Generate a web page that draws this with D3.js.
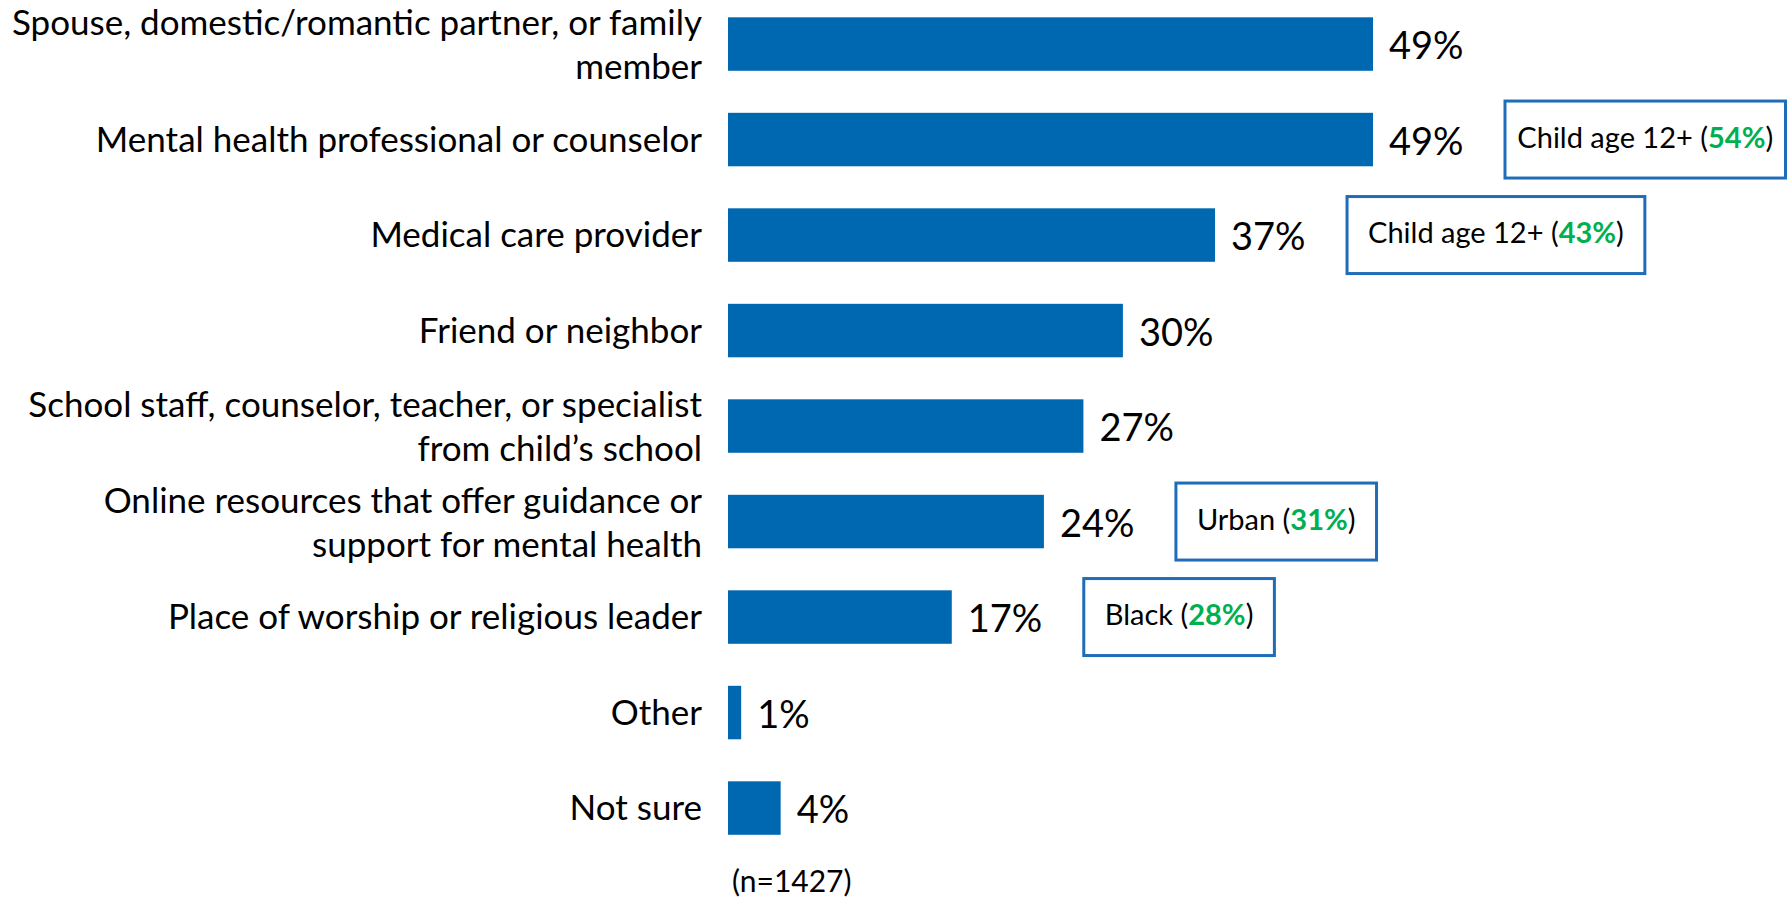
<!DOCTYPE html>
<html>
<head>
<meta charset="utf-8">
<script src="https://cdn.jsdelivr.net/npm/d3@7"></script>
<style>
  html, body { margin: 0; padding: 0; background: #ffffff; }
  svg { display: block; font-family: Lato, "Open Sans", sans-serif; }
</style>
</head>
<body>
<svg id="chart" width="1787" height="899"></svg>
<script>
// Where parents turn for help: share of respondents per source
const categories = [
  ["Spouse, domestic/romantic partner, or family", "member"],
  ["Mental health professional or counselor"],
  ["Medical care provider"],
  ["Friend or neighbor"],
  ["School staff, counselor, teacher, or specialist", "from child\u2019s school"],
  ["Online resources that offer guidance or", "support for mental health"],
  ["Place of worship or religious leader"],
  ["Other"],
  ["Not sure"]
];
const values = [49, 49, 37, 30, 27, 24, 17, 1, 4];

// Subgroup callouts: which row, the subgroup name, and its share
const calloutRows = [1, 2, 5, 6];
const calloutGroups = ["Child age 12+", "Child age 12+", "Urban", "Black"];
const calloutValues = [54, 43, 31, 28];

const sampleNote = "(n=1427)";

const W = 1787, H = 899;
const BAR = "#0067B1", BOX = "#1F6DB8", GREEN = "#00B050";

const svg = d3.select("#chart");

const keys = categories.map((c, i) => i);
const y = d3.scaleBand()
  .domain(keys)
  .range([-3.7, 855.8])
  .paddingInner(0.44)
  .paddingOuter(0.22);

const x = d3.scaleLinear()
  .domain([0, 49])
  .range([728, 1373]);

// Bars
svg.append("g").selectAll("rect")
  .data(values)
  .join("rect")
  .attr("x", x(0))
  .attr("y", (d, i) => y(i))
  .attr("width", d => x(d) - x(0))
  .attr("height", y.bandwidth())
  .attr("fill", BAR);

// Category labels, right-aligned next to the bars
const labelFont = 35;
const cat = svg.append("g")
  .attr("font-size", labelFont)
  .attr("fill", "#000")
  .attr("text-anchor", "end");
categories.forEach((lines, i) => {
  const c = y(i) + y.bandwidth() / 2;
  const lx = x(0) - 26;
  const t = cat.append("text").attr("x", lx);
  if (lines.length === 1) {
    t.append("tspan").attr("x", lx).attr("y", c).attr("dy", "0.35em").text(lines[0]);
  } else {
    t.append("tspan").attr("x", lx).attr("y", c - 21).attr("dy", "0.35em").text(lines[0]);
    t.append("tspan").attr("x", lx).attr("y", c + 23).attr("dy", "0.35em").text(lines[1]);
  }
});

// Value labels at the end of each bar
svg.append("g")
  .attr("font-size", 38)
  .attr("fill", "#000")
  .selectAll("text")
  .data(values)
  .join("text")
  .attr("x", d => x(d) + 16)
  .attr("y", (d, i) => y(i) + y.bandwidth() / 2)
  .attr("dy", "0.4em")
  .text(d => d + "%");

// Callout boxes with the subgroup highlight
const cg = svg.append("g");
calloutRows.forEach((row, k) => {
  const c = y(row) + y.bandwidth() / 2;
  const left = x(values[row]) + 132;
  const g = cg.append("g");
  const rect = g.append("rect")
    .attr("fill", "#fff")
    .attr("stroke", BOX)
    .attr("stroke-width", 3);
  const t = g.append("text")
    .attr("font-size", 29)
    .attr("fill", "#000")
    .attr("text-anchor", "middle")
    .attr("y", c - 2)
    .attr("dy", "0.35em");
  t.append("tspan").text(calloutGroups[k] + " (");
  t.append("tspan").attr("fill", GREEN).attr("font-weight", "bold").text(calloutValues[k] + "%");
  t.append("tspan").text(")");
  const tw = t.node().getComputedTextLength();
  let right = left + tw + 42;
  if (right > W - 1.5) right = W - 1.5;
  rect.attr("x", left).attr("y", c - 38.5)
    .attr("width", right - left).attr("height", 77);
  t.attr("x", (left + right) / 2);
});

// Sample size note
svg.append("text")
  .attr("x", 732)
  .attr("y", 892)
  .attr("font-size", 30)
  .attr("fill", "#000")
  .text(sampleNote);
</script>
</body>
</html>
